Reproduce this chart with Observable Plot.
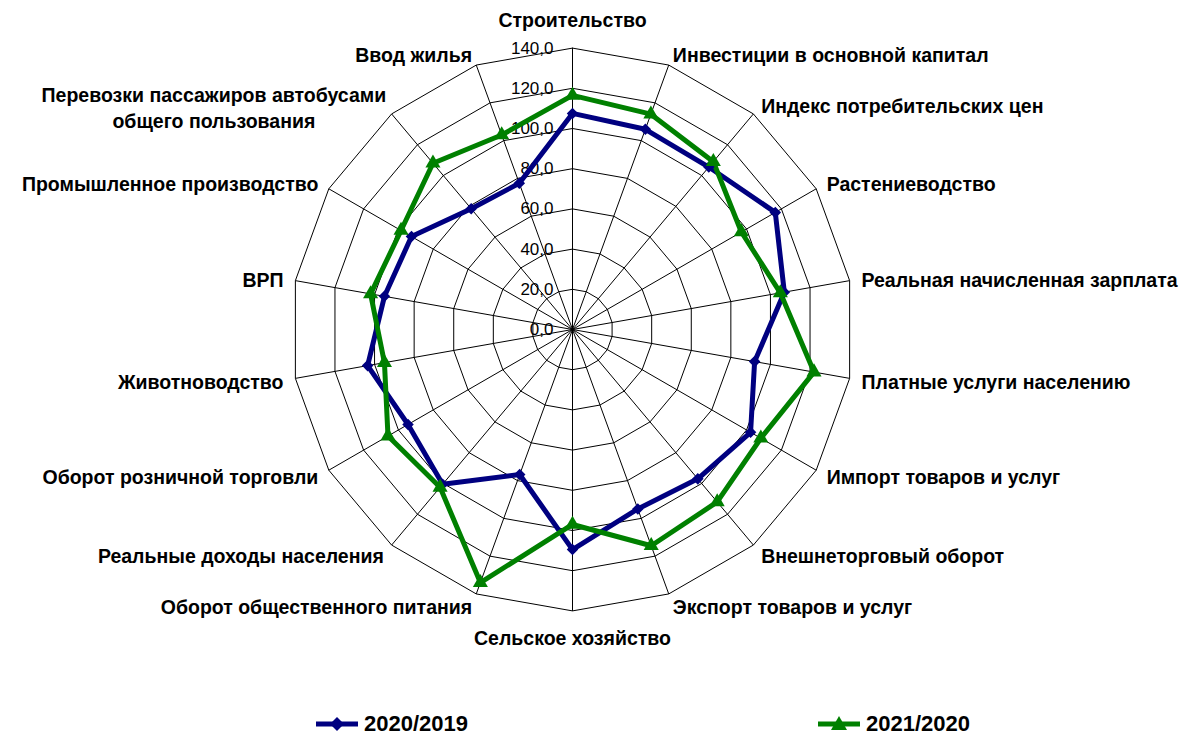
<!DOCTYPE html>
<html>
<head>
<meta charset="utf-8">
<script src="https://cdn.jsdelivr.net/npm/d3@7"></script>
<script src="https://cdn.jsdelivr.net/npm/@observablehq/plot@0.6"></script>
<style>
  html, body { margin: 0; padding: 0; background: #fff; overflow: hidden; }
  #wrap { position: relative; width: 1186px; height: 735px; font-family: "Liberation Sans", Arial, sans-serif; }
  .leg { position: absolute; top: 713px; height: 22px; line-height: 22px; display: flex; align-items: center; font-weight: bold; font-size: 22px; color: #000; }
  .leg svg { margin-right: 6px; display: block; }
</style>
</head>
<body>
<div id="wrap"></div>
<script>
const categories = [
  "Строительство",
  "Инвестиции в основной капитал",
  "Индекс потребительских цен",
  "Растениеводство",
  "Реальная начисленная зарплата",
  "Платные услуги населению",
  "Импорт товаров и услуг",
  "Внешнеторговый оборот",
  "Экспорт товаров и услуг",
  "Сельское хозяйство",
  "Оборот общественного питания",
  "Реальные доходы населения",
  "Оборот розничной торговли",
  "Животноводство",
  "ВРП",
  "Промышленное производство",
  "Перевозки пассажиров автобусами\nобщего пользования",
  "Ввод жилья"
];
const series2020 = [107.5, 106, 105.5, 116.5, 107, 92, 102.3, 97, 95, 109.5, 76.8, 100.5, 94.5, 103.5, 95, 92.5, 78.4, 77.4];
const series2021 = [116.5, 114, 109, 97, 105, 122, 108.2, 112, 114.5, 97, 134, 102.5, 106, 95, 102, 98.5, 108, 103];
const seriesNames = ["2020/2019", "2021/2020"];
const seriesColors = ["#000080", "#008000"];
const tickValues = [0, 20, 40, 60, 80, 100, 120, 140];

const n = categories.length;
const maxV = 140;
const cx = 572, cy = 329, k = 2.01;
const ang = i => i * 2 * Math.PI / n;
const px = (r, i) => r * Math.sin(ang(i));
const py = (r, i) => r * Math.cos(ang(i));
const fmt = v => v.toFixed(1).replace(".", ",");

// grid rings
const rings = [];
for (const t of tickValues.filter(t => t > 0)) {
  for (let i = 0; i <= n; i++) rings.push({ring: t, x: px(t, i % n), y: py(t, i % n)});
}
const spokes = categories.map((c, i) => ({x: px(maxV, i), y: py(maxV, i)}));

const seriesData = [];
[series2020, series2021].forEach((vals, s) => {
  vals.forEach((v, i) => seriesData.push({series: seriesNames[s], cat: categories[i], value: v, x: px(v, i), y: py(v, i)}));
});

const labR = maxV + 6;
const labels = categories.map((c, i) => ({text: c, i, x: px(labR, i), y: py(labR, i), deg: i * 360 / n}));
const rightLab = labels.filter(d => d.deg > 0 && d.deg < 180);
const leftLab = labels.filter(d => d.deg > 180 && d.deg < 360 && !d.text.includes("\n"));
const multiLab = labels.filter(d => d.text.includes("\n"));
const topLab = labels.filter(d => d.deg === 0);
const botLab = labels.filter(d => d.deg === 180);

const labStyle = {fontSize: 19.5, fontWeight: "bold", fill: "#000"};

const chart = Plot.plot({
  width: 1186,
  height: 700,
  margin: 0,
  style: {fontFamily: "'Liberation Sans', Arial, sans-serif", background: "#fff"},
  x: {axis: null, domain: [-maxV, maxV], range: [cx - maxV * k, cx + maxV * k]},
  y: {axis: null, domain: [-maxV, maxV], range: [cy + maxV * k, cy - maxV * k]},
  marks: [
    Plot.line(rings, {x: "x", y: "y", z: "ring", stroke: "#000", strokeWidth: 1}),
    Plot.link(spokes, {x1: 0, y1: 0, x2: "x", y2: "y", stroke: "#000", strokeWidth: 1}),
    Plot.text(tickValues, {x: 0, y: d => d, text: d => fmt(d), textAnchor: "end", dx: -19, fontSize: 17, fill: "#000"}),
    Plot.line(seriesData, {x: "x", y: "y", z: "series", stroke: d => d.series, strokeWidth: 5, curve: "linear-closed", strokeLinejoin: "miter"}),
    Plot.dot(seriesData.filter(d => d.series === seriesNames[0]), {x: "x", y: "y", symbol: "diamond2", r: 5.2, fill: seriesColors[0], stroke: "none"}),
    Plot.dot(seriesData.filter(d => d.series === seriesNames[1]), {x: "x", y: "y", symbol: "triangle", r: 5.6, fill: seriesColors[1], stroke: "none"}),
    Plot.text(rightLab, {x: "x", y: "y", text: "text", textAnchor: "start", dx: 0, dy: 2, ...labStyle}),
    Plot.text(leftLab, {x: "x", y: "y", text: "text", textAnchor: "end", dx: 0, dy: 2, ...labStyle}),
    Plot.text(multiLab, {x: "x", y: "y", text: "text", textAnchor: "middle", dx: -170, dy: 2, lineHeight: 1.35, ...labStyle}),
    Plot.text(topLab, {x: "x", y: "y", text: "text", lineAnchor: "bottom", dy: -9, ...labStyle}),
    Plot.text(botLab, {x: "x", y: "y", text: "text", lineAnchor: "top", dy: 8, ...labStyle})
  ],
  color: {domain: seriesNames, range: seriesColors}
});

const wrap = document.getElementById("wrap");
wrap.appendChild(chart);

const legendLeft = [316, 818];
seriesNames.forEach((name, s) => {
  const item = document.createElement("div");
  item.className = "leg";
  item.style.left = legendLeft[s] + "px";
  const sym = s === 0
    ? `<polygon points="21,4 28,11 21,18 14,11" fill="${seriesColors[s]}"/>`
    : `<polygon points="21,3 29,17 13,17" fill="${seriesColors[s]}"/>`;
  item.innerHTML = `<svg width="42" height="22"><line x1="0" y1="11" x2="42" y2="11" stroke="${seriesColors[s]}" stroke-width="5"/>${sym}</svg><span>${name}</span>`;
  wrap.appendChild(item);
});
</script>
</body>
</html>
